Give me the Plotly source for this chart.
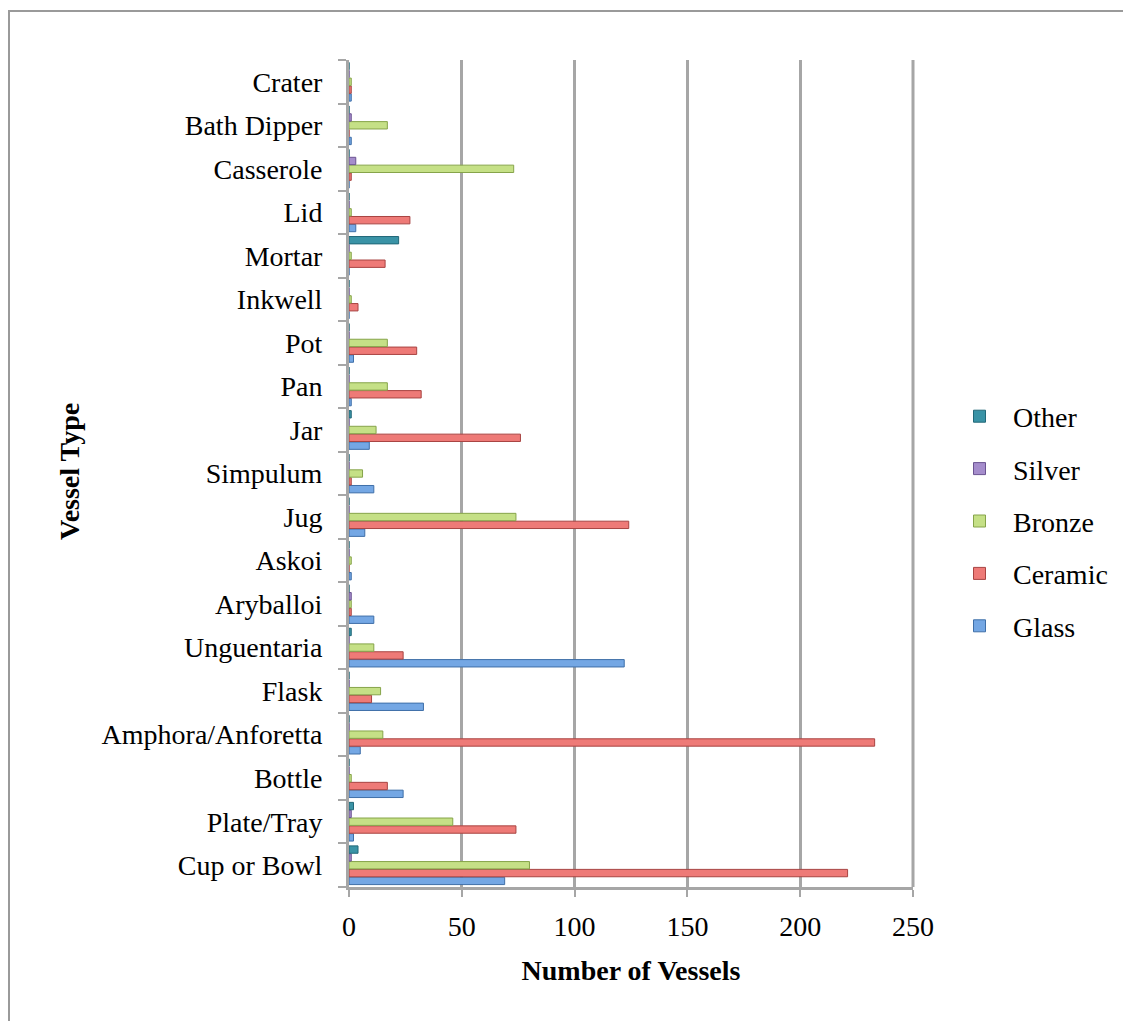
import plotly.graph_objects as go

categories = ["Cup or Bowl", "Plate/Tray", "Bottle", "Amphora/Anforetta", "Flask",
              "Unguentaria", "Aryballoi", "Askoi", "Jug", "Simpulum", "Jar", "Pan",
              "Pot", "Inkwell", "Mortar", "Lid", "Casserole", "Bath Dipper", "Crater"]
glass   = [69, 2, 24, 5, 33, 122, 11, 1, 7, 11, 9, 1, 2, 0, 0, 3, 0, 1, 1]
ceramic = [221, 74, 17, 233, 10, 24, 1, 0, 124, 1, 76, 32, 30, 4, 16, 27, 1, 0, 1]
bronze  = [80, 46, 1, 15, 14, 11, 1, 1, 74, 6, 12, 17, 17, 1, 1, 1, 73, 17, 1]
silver  = [1, 1, 0, 0, 0, 0, 1, 0, 0, 0, 0, 0, 0, 0, 0, 0, 3, 1, 0]
other   = [4, 2, 0, 0, 0, 1, 0, 0, 0, 0, 1, 0, 0, 0, 22, 0, 0, 0, 0]
x_ticks = [0, 50, 100, 150, 200, 250]

series = [
    ("Glass", glass, "#74A7E4", "#3F6FA8", 5),
    ("Ceramic", ceramic, "#EE7A77", "#A84442", 4),
    ("Bronze", bronze, "#C5E086", "#86A44A", 3),
    ("Silver", silver, "#A58DCC", "#6B5391", 2),
    ("Other", other, "#3A93A6", "#226878", 1),
]

FONT = "Liberation Serif"
FS = 28
GRID = "#A6A6A6"

fig = go.Figure()
for name, vals, col, edge, rank in series:
    fig.add_trace(go.Bar(
        y=categories, x=vals, name=name, orientation="h",
        legendgroup=name, legendrank=rank,
        marker=dict(color=col, line=dict(color=edge, width=1)),
    ))

# page is offset by the 8px body margin
OFF = 8
W, H = 1131 - OFF, 1021 - OFF
L, R, T, B = 349 - OFF, 218, 60 - OFF, 134
pw, ph = W - L - R, H - T - B

def px(xp):
    return (xp - OFF - L) / pw

def py(yp):
    return (H - B - (yp - OFF)) / ph

fig.update_layout(
    width=W, height=H,
    margin=dict(l=L, r=R, t=T, b=B),
    paper_bgcolor="white", plot_bgcolor="white",
    barmode="group", bargap=0.1, bargroupgap=0.06,
    font=dict(family=FONT, size=FS, color="black"),
    legend=dict(
        traceorder="grouped", x=px(946), xanchor="left", y=py(521), yanchor="middle",
        font=dict(family=FONT, size=FS), tracegroupgap=13, itemwidth=57,
        bgcolor="rgba(0,0,0,0)",
    ),
    xaxis=dict(
        range=[0, 250], tickvals=x_ticks, ticktext=[str(v) for v in x_ticks],
        showgrid=True, gridcolor=GRID, gridwidth=3,
        showline=True, linecolor=GRID, linewidth=3,
        ticks="outside", ticklen=7, tickcolor=GRID, tickwidth=2,
        ticklabelstandoff=5,
        zeroline=False,
        title=dict(text="<b>Number of Vessels</b>", font=dict(family=FONT, size=FS), standoff=20),
        tickfont=dict(family=FONT, size=FS),
    ),
    yaxis=dict(
        showgrid=False, showline=True, linecolor=GRID, linewidth=3,
        ticks="outside", tickson="boundaries", ticklen=8, tickcolor=GRID, tickwidth=2,
        ticklabelstandoff=18,
        tickfont=dict(family=FONT, size=FS),
        range=[-0.5, len(categories) - 0.5],
    ),
    annotations=[
        dict(text="<b>Vessel Type</b>", xref="paper", yref="paper",
             x=px(70), y=py(472), xanchor="center", yanchor="middle",
             textangle=-90, showarrow=False, font=dict(family=FONT, size=FS)),
    ],
    shapes=[
        dict(type="line", xref="paper", yref="paper", x0=1, x1=1, y0=0, y1=1,
             line=dict(color=GRID, width=3)),
        dict(type="path", xref="paper", yref="paper",
             path=f"M {px(9)},{py(1040)} L {px(9)},{py(11)} L {px(1150)},{py(11)}",
             line=dict(color="#9A9A9A", width=2)),
    ],
)

fig.write_html("out.html")
